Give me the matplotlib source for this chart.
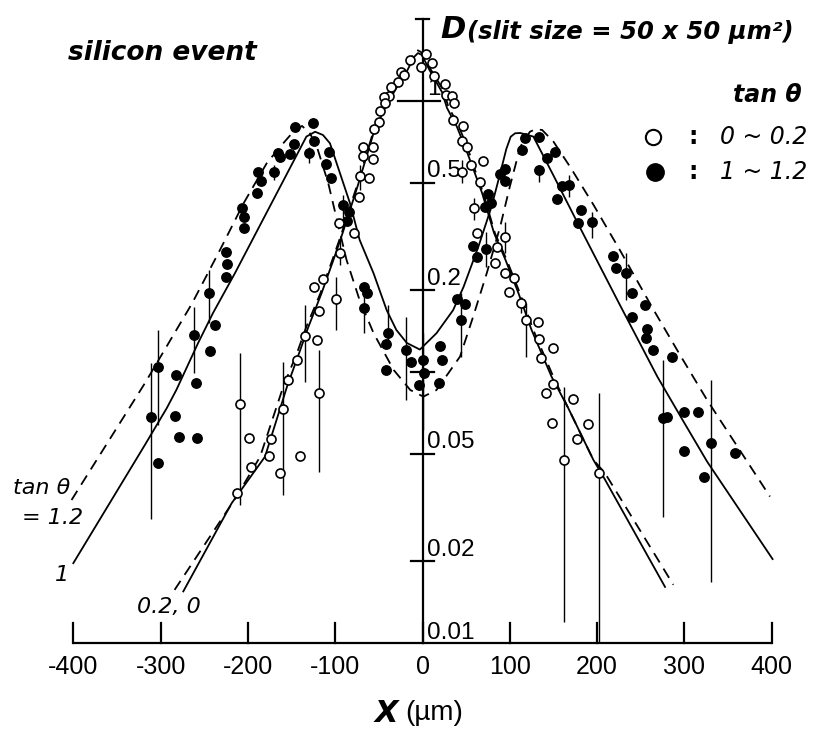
import matplotlib
matplotlib.use("Agg")
import matplotlib.pyplot as plt
from matplotlib.lines import Line2D

# ---------------------------------------------------------------- data
# measured D values, tan(theta) = 0 ~ 0.2 (open circles)
open_x = [4, -2, -14, 11, -25, -21, 13, -28, -36, -38, 26, 27, 34, 36, -44, -43,
          -49, -50, -56, 35, 46, 45, 51, -68, -57, -68, -57, -72, -61, 56, 69, 45,
          66, -73, -96, -78, -94, -124, -114, -119, -99, -135, -121, -144, -154,
          -119, -209, -199, -174, -176, -196, -163, -140, -212, -160, 59, 62, 95,
          85, 83, 95, 105, 99, 113, 119, 132, 133, 149, 136, 149, 142, 172, 148,
          189, 177, 162, 202]
open_D = [1.487, 1.332, 1.417, 1.385, 1.283, 1.247, 1.240, 1.178, 1.124, 1.043,
          1.155, 1.052, 1.043, 0.986, 1.032, 0.981, 0.919, 0.839, 0.786, 0.851,
          0.809, 0.714, 0.675, 0.678, 0.675, 0.627, 0.610, 0.529, 0.519, 0.581,
          0.602, 0.548, 0.504, 0.444, 0.356, 0.325, 0.276, 0.206, 0.220, 0.168,
          0.186, 0.136, 0.131, 0.111, 0.0934, 0.0834, 0.0760, 0.0569, 0.0566,
          0.0490, 0.0447, 0.0425, 0.0491, 0.0359, 0.0729, 0.402, 0.327, 0.316,
          0.290, 0.253, 0.232, 0.222, 0.198, 0.179, 0.156, 0.153, 0.132, 0.123,
          0.113, 0.0903, 0.0839, 0.0793, 0.0650, 0.0643, 0.0566, 0.0474, 0.0425]

# measured D values, tan(theta) = 1 ~ 1.2 (filled circles)
fill_x = [-146, -125, -124, -147, -130, -107, -165, -163, -152, -110, -105, -189,
          -185, -170, -190, -207, -204, -204, -225, -224, -225, -91, -84, -87,
          -245, -238, -262, -243, -303, -282, -260, -67, -64, -67, -39, -42, -42,
          -19, -13, 1, -4, 2, -311, -283, -279, -258, -303, 117, 134, 114, 143,
          152, 134, 94, 89, 95, 160, 168, 154, 182, 178, 194, 75, 79, 72, 58, 62,
          73, 40, 49, 44, 20, 22, 19, 218, 222, 233, 240, 255, 240, 257, 256, 264,
          286, 276, 280, 299, 315, 331, 299, 358, 323]
fill_D = [0.804, 0.827, 0.714, 0.692, 0.641, 0.650, 0.641, 0.620, 0.637, 0.585,
          0.521, 0.546, 0.508, 0.548, 0.456, 0.402, 0.374, 0.341, 0.278, 0.250,
          0.225, 0.413, 0.390, 0.362, 0.195, 0.149, 0.137, 0.120, 0.104, 0.0975,
          0.0909, 0.206, 0.195, 0.172, 0.139, 0.127, 0.102, 0.121, 0.109, 0.111,
          0.0895, 0.0989, 0.0681, 0.0688, 0.0574, 0.0572, 0.0463, 0.729, 0.739,
          0.659, 0.615, 0.647, 0.556, 0.561, 0.538, 0.507, 0.486, 0.490, 0.436,
          0.396, 0.356, 0.359, 0.454, 0.419, 0.405, 0.292, 0.265, 0.284, 0.186,
          0.178, 0.156, 0.125, 0.111, 0.0909, 0.268, 0.241, 0.232, 0.195, 0.176,
          0.160, 0.144, 0.134, 0.121, 0.114, 0.0675, 0.0681, 0.0714, 0.0710,
          0.0548, 0.0511, 0.0504, 0.0411]

# error bars (x, lower D, upper D)
err_fill_x = [-130, -170, -91, -245, -262, -303, -311, -67, -39, -19, 1, 44, 73,
              134, 168, 194, 233, 276, 331]
err_fill_lo = [0.590, 0.511, 0.370, 0.152, 0.0992, 0.0637, 0.0287, 0.139, 0.131,
               0.0788, 0.0611, 0.114, 0.244, 0.502, 0.442, 0.312, 0.184, 0.0292,
               0.0168]
err_fill_hi = [0.676, 0.581, 0.450, 0.238, 0.174, 0.143, 0.108, 0.196, 0.177,
               0.160, 0.139, 0.196, 0.329, 0.581, 0.533, 0.389, 0.275, 0.111,
               0.0934]
err_open_x = [-72, -94, -99, -135, -119, -209, -160, 45, 59, 95, 113, 119, 162, 202]
err_open_lo = [0.469, 0.248, 0.143, 0.0918, 0.0428, 0.0323, 0.0352, 0.498, 0.364,
               0.275, 0.165, 0.114, 0.0120, 0.0100]
err_open_hi = [0.581, 0.307, 0.224, 0.177, 0.121, 0.1175, 0.109, 0.606, 0.439,
               0.358, 0.189, 0.180, 0.0881, 0.0837]

# calculated curves
calc_x_t1 = [-400, -318, -293, -282, -257, -240, -215, -133, -123, -114, -106,
             -94.5, -83, -72, -56, -41, -30, -18, -3, 16, 35, 47, 64, 79, 89, 96,
             101, 106, 112, 127, 150, 180, 226, 269, 299, 326, 401]
calc_D_t1 = [0.0197, 0.0538, 0.0735, 0.0858, 0.128, 0.165, 0.231, 0.739, 0.770,
             0.749, 0.698, 0.541, 0.419, 0.307, 0.231, 0.169, 0.143, 0.128, 0.121,
             0.139, 0.169, 0.206, 0.290, 0.407, 0.541, 0.665, 0.738, 0.760, 0.762,
             0.739, 0.531, 0.343, 0.177, 0.0961, 0.0656, 0.0467, 0.0204]
calc_x_t12 = [-402, -318, -264, -232, -205, -178.5, -163, -148, -138, -129, -121,
              -108, -98, -87, -72, -56, -33, -14, 1, 16, 43, 58, 73.5, 89, 100,
              112, 123, 129, 137, 150, 169, 196, 226, 264, 295, 326, 398]
calc_D_t12 = [0.0337, 0.0909, 0.179, 0.282, 0.419, 0.589, 0.678, 0.770, 0.809,
              0.760, 0.678, 0.498, 0.364, 0.259, 0.184, 0.139, 0.1017, 0.0858,
              0.0811, 0.0858, 0.114, 0.160, 0.231, 0.344, 0.483, 0.678, 0.770,
              0.786, 0.782, 0.708, 0.572, 0.413, 0.282, 0.171, 0.1155, 0.0788,
              0.0347]
calc_x_t02 = [-284, -213, -186, -159.5, -144, -133, -117, -102, -92.6, -83, -75.4,
              -63.9, -56.4, -43, -29.6, -18.1, -10.9, -6.3, -1.7, 8.6, 23.8, 29.6,
              41, 52.5, 60.1, 69.6, 83, 96.5, 111.7, 126.9, 149.8, 167, 195.7,
              209.1, 287.3]
calc_D_t02 = [0.0157, 0.0347, 0.0487, 0.0883, 0.117, 0.147, 0.195, 0.266, 0.325,
              0.407, 0.483, 0.641, 0.770, 0.966, 1.146, 1.320, 1.478, 1.543,
              1.516, 1.320, 1.098, 0.953, 0.816, 0.659, 0.556, 0.457, 0.325, 0.259,
              0.195, 0.143, 0.0961, 0.0735, 0.0474, 0.0423, 0.0164]
calc_x_t0 = [-274, -218.6, -180.4, -155.2, -141.5, -130.6, -115.7, -100.8, -91.6,
             -81.9, -74.5, -63, -55.6, -41.8, -28.6, -17.2, -9.7, -5.2, -0.6, 7.4,
             22.3, 28.1, 39.5, 51, 59, 68.2, 81.9, 95.1, 110, 124.9, 147.8, 167,
             195.7, 207.1, 277.8]
calc_D_t0 = [0.0155, 0.0328, 0.0487, 0.0883, 0.117, 0.147, 0.195, 0.266, 0.325,
             0.407, 0.483, 0.641, 0.770, 0.958, 1.136, 1.301, 1.453, 1.503, 1.478,
             1.312, 1.079, 0.942, 0.802, 0.648, 0.552, 0.458, 0.326, 0.259, 0.195,
             0.143, 0.0961, 0.0735, 0.0474, 0.0411, 0.0161]

x_ticks = [-400, -300, -200, -100, 0, 100, 200, 300, 400]
x_tick_labels = ["-400", "-300", "-200", "-100", "0", "100", "200", "300", "400"]
y_ticks = [1, 0.5, 0.2, 0.1, 0.05, 0.02]
y_tick_labels = ["1", "0.5", "0.2", "", "0.05", "0.02"]
y_bottom_label = "0.01"

# ---------------------------------------------------------------- figure
W, H = 822, 738
fig = plt.figure(figsize=(W / 100, H / 100), dpi=100)
ax = fig.add_axes([0, 0, 1, 1])
ax.set_yscale("log")
ax.set_xlim(-483.96, 457.6)
ax.set_ylim(0.0044598, 2.3589)
ax.axis("off")

NUM = "Liberation Sans"
TXT = "DejaVu Sans"


def fpos(px, py):
    return px / W, 1 - py / H


# axes drawn as crossing lines
ax.plot([-400, 400], [0.01, 0.01], color="black", lw=1.6, solid_capstyle="butt")
for xt, lab in zip(x_ticks, x_tick_labels):
    ax.plot([xt, xt], [0.01, 0.01188], color="black", lw=1.6)
    ax.annotate(lab, xy=(xt, 0.01), xytext=(0, -17), textcoords="offset points",
                ha="center", va="center", fontsize=18, family=NUM)

ax.plot([0, 0], [0.01, 2.0], color="black", lw=1.6)
ax.plot([-8, 8], [2.0, 2.0], color="black", lw=1.6)
for yt, lab in zip(y_ticks, y_tick_labels):
    left, right = (-28, 20) if yt == 1 else (-13, 13)
    ax.plot([left, right], [yt, yt], color="black", lw=1.6)
    if lab:
        ax.annotate(lab, xy=(0, yt), xytext=(3, 4), textcoords="offset points",
                    ha="left", va="baseline", fontsize=17.5, family=NUM)
ax.annotate(y_bottom_label, xy=(0, 0.01), xytext=(3, 3), textcoords="offset points",
            ha="left", va="baseline", fontsize=17.5, family=NUM)

# calculated curves
dash = (0, (6, 4))
ax.plot(calc_x_t1, calc_D_t1, color="black", lw=1.3, zorder=2)
ax.plot(calc_x_t12, calc_D_t12, color="black", lw=1.3, ls=dash, zorder=2)
ax.plot(calc_x_t0, calc_D_t0, color="black", lw=1.3, zorder=2)
ax.plot(calc_x_t02, calc_D_t02, color="black", lw=1.3, ls=dash, zorder=2)

# error bars
ax.vlines(err_fill_x, err_fill_lo, err_fill_hi, color="black", lw=1.0, zorder=3)
ax.vlines(err_open_x, err_open_lo, err_open_hi, color="black", lw=1.0, zorder=3)

# measured points
ax.plot(fill_x, fill_D, ls="none", marker="o", ms=6.8, mfc="black", mec="black",
        zorder=4)
ax.plot(open_x, open_D, ls="none", marker="o", ms=6.5, mfc="white", mec="black",
        mew=1.2, zorder=5)

# texts
fig.text(*fpos(68, 53), "silicon event", fontsize=19, family=TXT,
         weight="bold", style="italic", ha="left", va="center")
fig.text(*fpos(440, 30), "D", fontsize=22, family=TXT, weight="bold",
         style="italic", ha="left", va="center")
fig.text(*fpos(467, 32), "(slit size = 50 x 50 \u00b5m\u00b2)", fontsize=17.5,
         family=TXT, weight="bold", style="italic", ha="left", va="center")

# legend
fig.text(*fpos(733, 95), "tan \u03b8", fontsize=17, family=TXT, weight="bold",
         style="italic", ha="left", va="center")
fig.add_artist(Line2D([653 / W], [1 - 137 / H], marker="o", ms=11, mfc="white",
                      mec="black", mew=1.5, ls="none"))
fig.add_artist(Line2D([655 / W], [1 - 172 / H], marker="o", ms=12.5, mfc="black",
                      mec="black", ls="none"))
for py, lab in [(137, "0 ~ 0.2"), (172, "1 ~ 1.2")]:
    fig.text(*fpos(693, py), ":", fontsize=17, family=TXT, weight="bold",
             ha="center", va="center")
    fig.text(*fpos(720, py), lab, fontsize=17, family=TXT, style="italic",
             ha="left", va="center")

# curve labels
fig.text(*fpos(13, 488), "tan \u03b8", fontsize=16, family=TXT, style="italic",
         ha="left", va="center")
fig.text(*fpos(22, 518), "= 1.2", fontsize=16, family=TXT, style="italic",
         ha="left", va="center")
fig.text(*fpos(62, 575), "1", fontsize=16, family=TXT, style="italic",
         ha="center", va="center")
fig.text(*fpos(137, 607), "0.2, 0", fontsize=16, family=TXT, style="italic",
         ha="left", va="center")

# axis title
fig.text(*fpos(398, 713), "X", fontsize=22, family=TXT, weight="bold",
         style="italic", ha="right", va="center")
fig.text(*fpos(405, 713), "(\u00b5m)", fontsize=20, family=NUM,
         ha="left", va="center")

fig.savefig("out.png", dpi=100)
